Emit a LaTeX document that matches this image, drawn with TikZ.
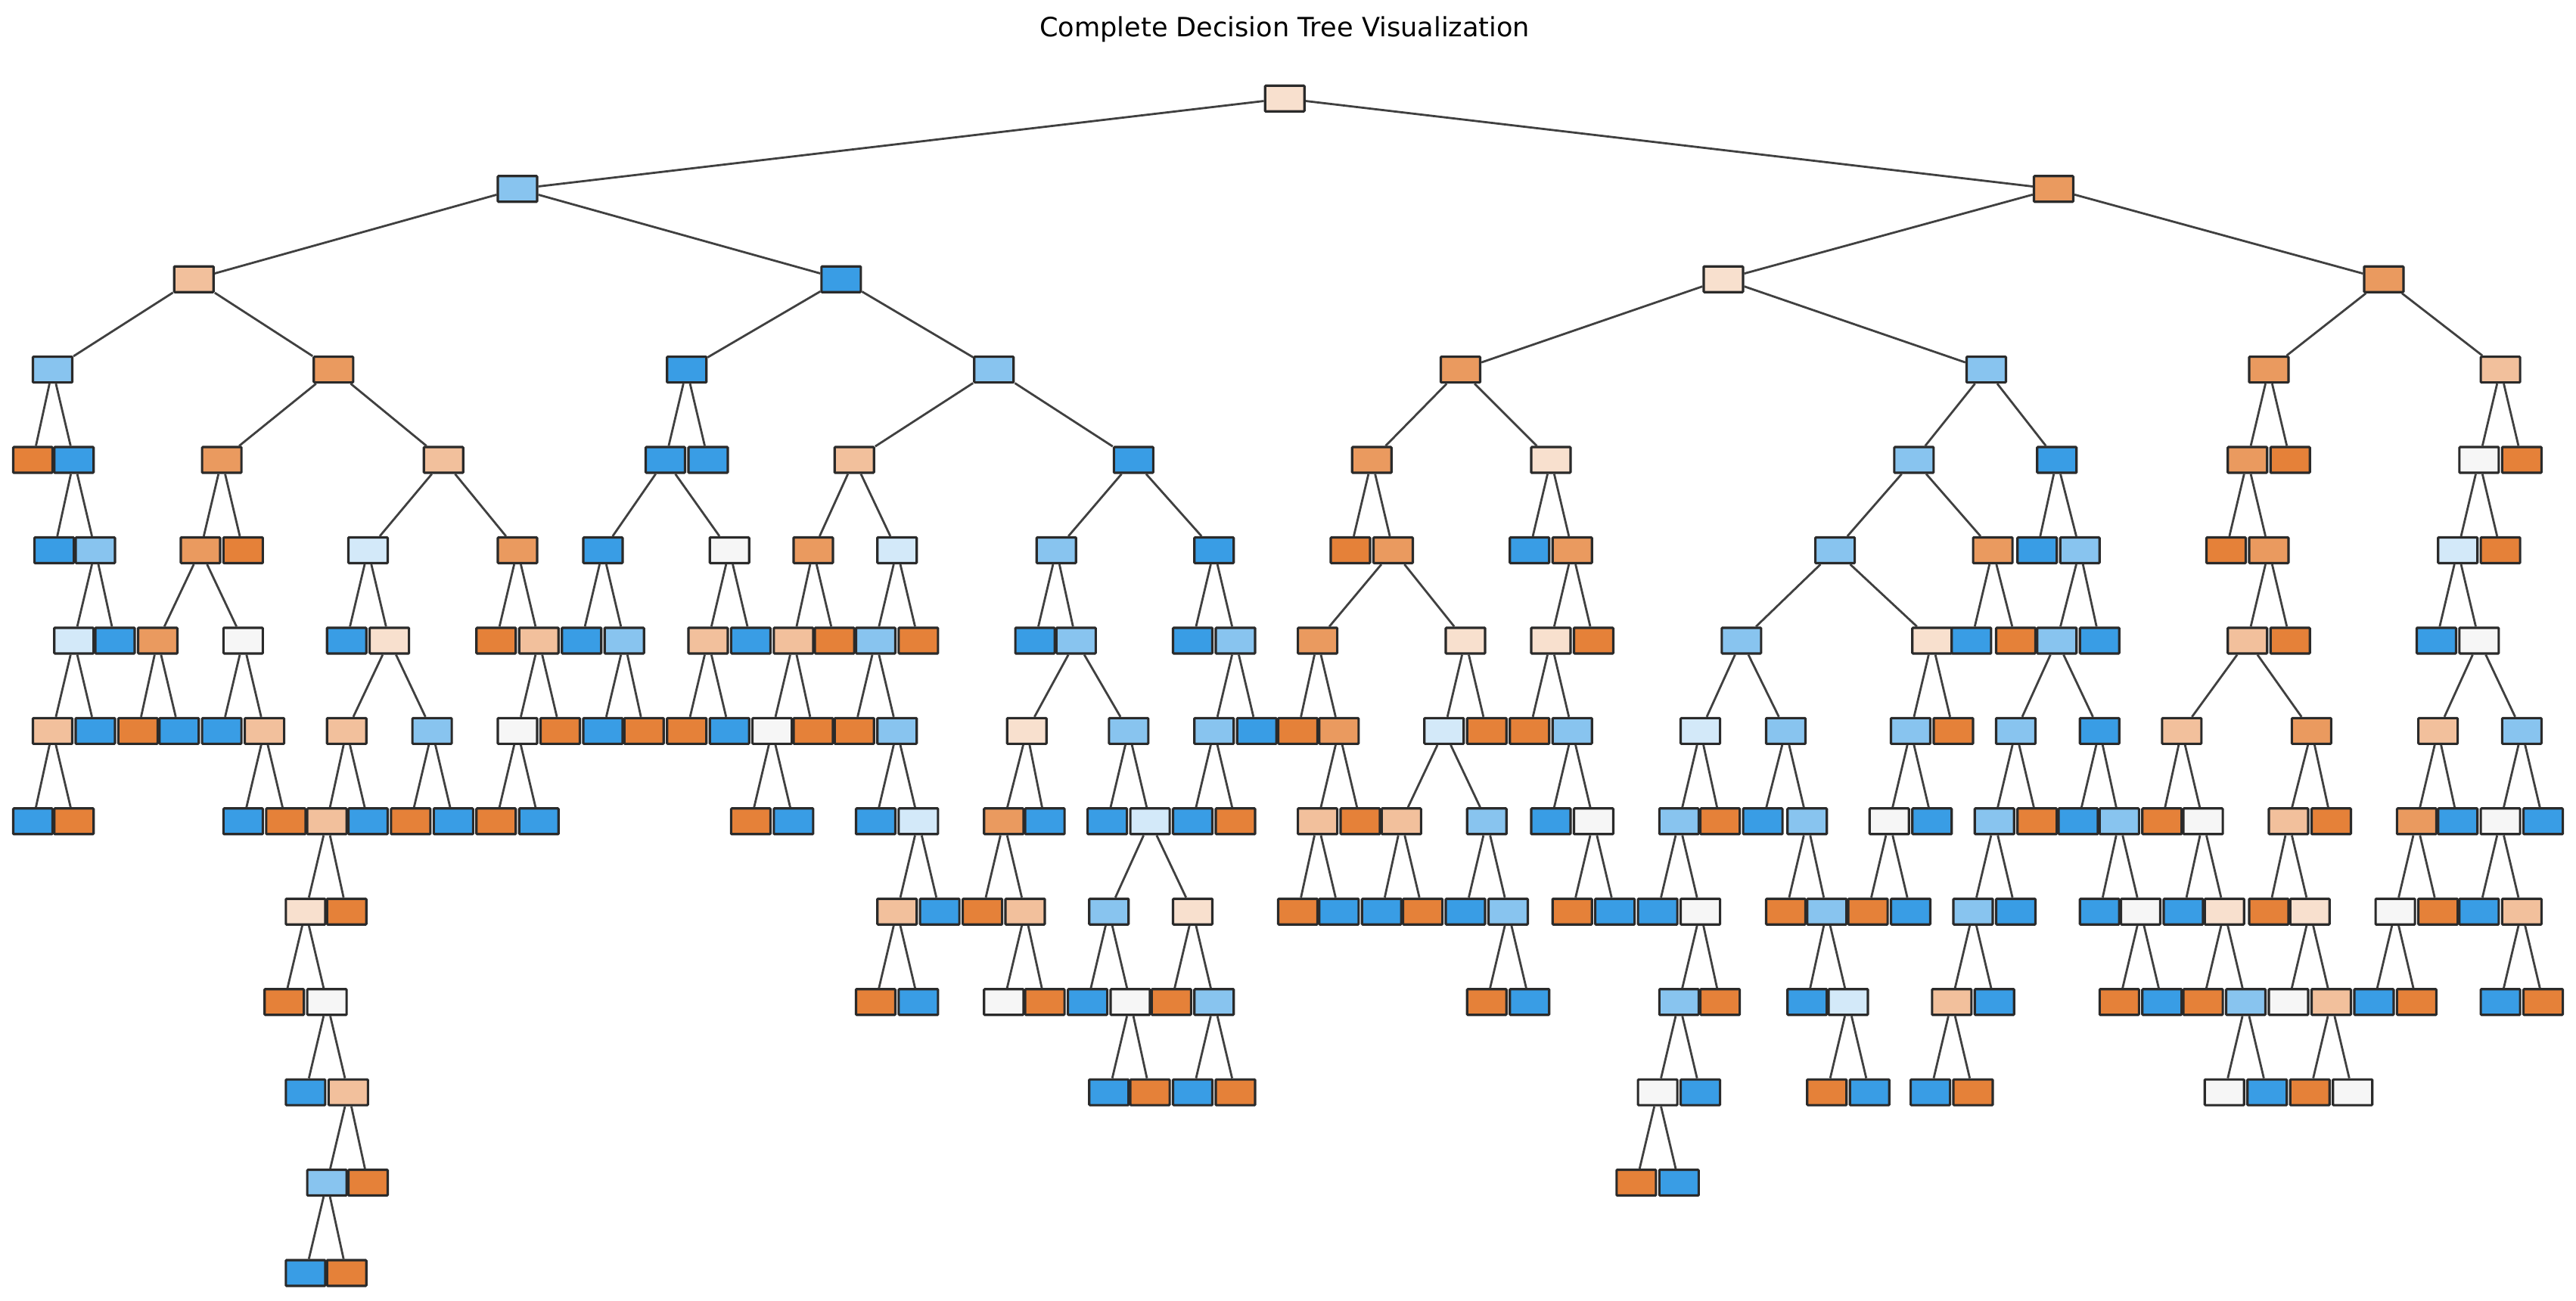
\documentclass[tikz,border=0pt]{standalone}
\usepackage{fontspec}
\setmainfont{DejaVu Sans}
\definecolor{O}{HTML}{E58139}
\definecolor{Om}{HTML}{EA9A5F}
\definecolor{o}{HTML}{F2C09C}
\definecolor{oo}{HTML}{F8E0CE}
\definecolor{W}{HTML}{F6F6F6}
\definecolor{bb}{HTML}{D3E9F9}
\definecolor{b}{HTML}{88C4EF}
\definecolor{B}{HTML}{399DE5}
\definecolor{bord}{HTML}{2A2A2A}
\tikzset{
  box/.style={draw=bord,line width=0.9pt,rounded corners=0.3pt,minimum width=0.52cm,minimum height=0.34cm,inner sep=0pt},
  edge/.style={draw=black!75,line width=0.8pt}
}
\newcommand\nd[5]{\node[box,fill=#5] (#1) at (#3,{60+55*#4}) {}; \draw[edge] (#2) -- (#1);}
\begin{document}
\begin{tikzpicture}[x=0.021716cm,y=-0.021716cm]
\useasboundingbox (0,0) rectangle (1568,792);
\node (title) at (782,18) {\fontsize{10}{12}\selectfont Complete Decision Tree Visualization};
\node[box,fill=oo] (r) at (782,60) {};
\nd{a}{r}{315}{1}{b}
\nd{bq}{r}{1250}{1}{Om}
\nd{a1}{a}{118}{2}{o}
\nd{a2}{a}{512}{2}{B}
\nd{a11}{a1}{32}{3}{b}
\nd{a12}{a1}{203}{3}{Om}
\nd{l1}{a11}{20}{4}{O}
\nd{a112}{a11}{45}{4}{B}
\nd{l2}{a112}{33}{5}{B}
\nd{a1122}{a112}{58}{5}{b}
\nd{a11221}{a1122}{45}{6}{bb}
\nd{l3}{a1122}{70}{6}{B}
\nd{a112211}{a11221}{32}{7}{o}
\nd{l4}{a11221}{58}{7}{B}
\nd{l5}{a112211}{20}{8}{B}
\nd{l6}{a112211}{45}{8}{O}
\nd{a121}{a12}{135}{4}{Om}
\nd{a122}{a12}{270}{4}{o}
\nd{a1211}{a121}{122}{5}{Om}
\nd{l7}{a121}{148}{5}{O}
\nd{a12111}{a1211}{96}{6}{Om}
\nd{a12112}{a1211}{148}{6}{W}
\nd{l8}{a12111}{84}{7}{O}
\nd{l9}{a12111}{109}{7}{B}
\nd{l10}{a12112}{135}{7}{B}
\nd{a121122}{a12112}{161}{7}{o}
\nd{l11}{a121122}{148}{8}{B}
\nd{l12}{a121122}{174}{8}{O}
\nd{a1221}{a122}{224}{5}{bb}
\nd{a1222}{a122}{315}{5}{Om}
\nd{l13}{a1221}{211}{6}{B}
\nd{a12212}{a1221}{237}{6}{oo}
\nd{a122121}{a12212}{211}{7}{o}
\nd{a122122}{a12212}{263}{7}{b}
\nd{a1221211}{a122121}{199}{8}{o}
\nd{l14}{a122121}{224}{8}{B}
\nd{c1}{a1221211}{186}{9}{oo}
\nd{l15}{a1221211}{211}{9}{O}
\nd{l16}{c1}{173}{10}{O}
\nd{c2}{c1}{199}{10}{W}
\nd{l17}{c2}{186}{11}{B}
\nd{c3}{c2}{212}{11}{o}
\nd{c4}{c3}{199}{12}{b}
\nd{l18}{c3}{224}{12}{O}
\nd{l19}{c4}{186}{13}{B}
\nd{l20}{c4}{211}{13}{O}
\nd{l21}{a122122}{250}{8}{O}
\nd{l22}{a122122}{276}{8}{B}
\nd{l23}{a1222}{302}{6}{O}
\nd{a12222}{a1222}{328}{6}{o}
\nd{a122221}{a12222}{315}{7}{W}
\nd{l24}{a12222}{341}{7}{O}
\nd{l25}{a122221}{302}{8}{O}
\nd{l26}{a122221}{328}{8}{B}
\nd{a21}{a2}{418}{3}{B}
\nd{a22}{a2}{605}{3}{b}
\nd{a211}{a21}{405}{4}{B}
\nd{l27}{a21}{431}{4}{B}
\nd{a2111}{a211}{367}{5}{B}
\nd{a2112}{a211}{444}{5}{W}
\nd{l28}{a2111}{354}{6}{B}
\nd{a21112}{a2111}{380}{6}{b}
\nd{l29}{a21112}{367}{7}{B}
\nd{l30}{a21112}{392}{7}{O}
\nd{a21121}{a2112}{431}{6}{o}
\nd{l31}{a2112}{457}{6}{B}
\nd{l32}{a21121}{418}{7}{O}
\nd{l33}{a21121}{444}{7}{B}
\nd{a221}{a22}{520}{4}{o}
\nd{a222}{a22}{690}{4}{B}
\nd{a2211}{a221}{495}{5}{Om}
\nd{a2212}{a221}{546}{5}{bb}
\nd{a22111}{a2211}{483}{6}{o}
\nd{l34}{a2211}{508}{6}{O}
\nd{a221111}{a22111}{470}{7}{W}
\nd{l35}{a22111}{495}{7}{O}
\nd{l36}{a221111}{457}{8}{O}
\nd{l37}{a221111}{483}{8}{B}
\nd{a22121}{a2212}{533}{6}{b}
\nd{l38}{a2212}{559}{6}{O}
\nd{l39}{a22121}{520}{7}{O}
\nd{a221212}{a22121}{546}{7}{b}
\nd{l40}{a221212}{533}{8}{B}
\nd{d1}{a221212}{559}{8}{bb}
\nd{d2}{d1}{546}{9}{o}
\nd{l41}{d1}{572}{9}{B}
\nd{l42}{d2}{533}{10}{O}
\nd{l43}{d2}{559}{10}{B}
\nd{a2221}{a222}{643}{5}{b}
\nd{a2222}{a222}{739}{5}{B}
\nd{l44}{a2221}{630}{6}{B}
\nd{a22212}{a2221}{655}{6}{b}
\nd{e1}{a22212}{625}{7}{oo}
\nd{e2}{a22212}{687}{7}{b}
\nd{e11}{e1}{611}{8}{Om}
\nd{l45}{e1}{636}{8}{B}
\nd{l46}{e11}{598}{9}{O}
\nd{e112}{e11}{624}{9}{o}
\nd{l47}{e112}{611}{10}{W}
\nd{l48}{e112}{636}{10}{O}
\nd{l49}{e2}{674}{8}{B}
\nd{e22}{e2}{700}{8}{bb}
\nd{e221}{e22}{675}{9}{b}
\nd{e222}{e22}{726}{9}{oo}
\nd{l50}{e221}{662}{10}{B}
\nd{e2212}{e221}{688}{10}{W}
\nd{l51}{e2212}{675}{11}{B}
\nd{l52}{e2212}{700}{11}{O}
\nd{l53}{e222}{713}{10}{O}
\nd{e2222}{e222}{739}{10}{b}
\nd{l54}{e2222}{726}{11}{B}
\nd{l55}{e2222}{752}{11}{O}
\nd{l56}{a2222}{726}{6}{B}
\nd{f1}{a2222}{752}{6}{b}
\nd{f11}{f1}{739}{7}{b}
\nd{l57}{f1}{765}{7}{B}
\nd{l58}{f11}{726}{8}{B}
\nd{l59}{f11}{752}{8}{O}
\nd{b1}{bq}{1049}{2}{oo}
\nd{b2}{bq}{1451}{2}{Om}
\nd{b11}{b1}{889}{3}{Om}
\nd{b12}{b1}{1209}{3}{b}
\nd{b111}{b11}{835}{4}{Om}
\nd{b112}{b11}{944}{4}{oo}
\nd{l60}{b111}{822}{5}{O}
\nd{b1112}{b111}{848}{5}{Om}
\nd{g1}{b1112}{802}{6}{Om}
\nd{g2}{b1112}{892}{6}{oo}
\nd{l61}{g1}{790}{7}{O}
\nd{g12}{g1}{815}{7}{Om}
\nd{g121}{g12}{802}{8}{o}
\nd{l62}{g12}{828}{8}{O}
\nd{l63}{g121}{790}{9}{O}
\nd{l64}{g121}{815}{9}{B}
\nd{g21}{g2}{879}{7}{bb}
\nd{l65}{g2}{905}{7}{O}
\nd{g211}{g21}{853}{8}{o}
\nd{g212}{g21}{905}{8}{b}
\nd{l66}{g211}{841}{9}{B}
\nd{l67}{g211}{866}{9}{O}
\nd{l68}{g212}{892}{9}{B}
\nd{g2122}{g212}{918}{9}{b}
\nd{l69}{g2122}{905}{10}{O}
\nd{l70}{g2122}{931}{10}{B}
\nd{l71}{b112}{931}{5}{B}
\nd{b1122}{b112}{957}{5}{Om}
\nd{h1}{b1122}{944}{6}{oo}
\nd{l72}{b1122}{970}{6}{O}
\nd{l73}{h1}{931}{7}{O}
\nd{h12}{h1}{957}{7}{b}
\nd{l74}{h12}{944}{8}{B}
\nd{h122}{h12}{970}{8}{W}
\nd{l75}{h122}{957}{9}{O}
\nd{l76}{h122}{983}{9}{B}
\nd{b121}{b12}{1165}{4}{b}
\nd{b122}{b12}{1252}{4}{B}
\nd{p}{b121}{1117}{5}{b}
\nd{b1212}{b121}{1213}{5}{Om}
\nd{q}{p}{1060}{6}{b}
\nd{rr}{p}{1176}{6}{oo}
\nd{l77}{b1212}{1200}{6}{B}
\nd{l78}{b1212}{1227}{6}{O}
\nd{l79}{b122}{1240}{5}{B}
\nd{b1222}{b122}{1266}{5}{b}
\nd{s}{b1222}{1252}{6}{b}
\nd{l80}{b1222}{1278}{6}{B}
\nd{q1}{q}{1035}{7}{bb}
\nd{q2}{q}{1087}{7}{b}
\nd{q11}{q1}{1022}{8}{b}
\nd{l81}{q1}{1047}{8}{O}
\nd{l82}{q11}{1009}{9}{B}
\nd{q112}{q11}{1035}{9}{W}
\nd{q1121}{q112}{1022}{10}{b}
\nd{l83}{q112}{1047}{10}{O}
\nd{q11211}{q1121}{1009}{11}{W}
\nd{l84}{q1121}{1035}{11}{B}
\nd{l85}{q11211}{996}{12}{O}
\nd{l86}{q11211}{1022}{12}{B}
\nd{l87}{q2}{1073}{8}{B}
\nd{q22}{q2}{1100}{8}{b}
\nd{l88}{q22}{1087}{9}{O}
\nd{q222}{q22}{1112}{9}{b}
\nd{l89}{q222}{1100}{10}{B}
\nd{q2222}{q222}{1125}{10}{bb}
\nd{l90}{q2222}{1112}{11}{O}
\nd{l91}{q2222}{1138}{11}{B}
\nd{r1}{rr}{1163}{7}{b}
\nd{l92}{rr}{1189}{7}{O}
\nd{r11}{r1}{1150}{8}{W}
\nd{l93}{r1}{1176}{8}{B}
\nd{l94}{r11}{1137}{9}{O}
\nd{l95}{r11}{1163}{9}{B}
\nd{s1}{s}{1227}{7}{b}
\nd{s2}{s}{1278}{7}{B}
\nd{s11}{s1}{1214}{8}{b}
\nd{l96}{s1}{1240}{8}{O}
\nd{s111}{s11}{1201}{9}{b}
\nd{l97}{s11}{1227}{9}{B}
\nd{s1111}{s111}{1188}{10}{o}
\nd{l98}{s111}{1214}{10}{B}
\nd{l99}{s1111}{1175}{11}{B}
\nd{l100}{s1111}{1201}{11}{O}
\nd{l101}{s2}{1265}{8}{B}
\nd{s22}{s2}{1290}{8}{b}
\nd{l102}{s22}{1278}{9}{B}
\nd{s222}{s22}{1303}{9}{W}
\nd{l103}{s222}{1290}{10}{O}
\nd{l104}{s222}{1316}{10}{B}
\nd{b21}{b2}{1381}{3}{Om}
\nd{b22}{b2}{1522}{3}{o}
\nd{b211}{b21}{1368}{4}{Om}
\nd{l105}{b21}{1394}{4}{O}
\nd{l106}{b211}{1355}{5}{O}
\nd{b2112}{b211}{1381}{5}{Om}
\nd{t1}{b2112}{1368}{6}{o}
\nd{l107}{b2112}{1394}{6}{O}
\nd{t11}{t1}{1328}{7}{o}
\nd{t12}{t1}{1407}{7}{Om}
\nd{l108}{t11}{1316}{8}{O}
\nd{t112}{t11}{1341}{8}{W}
\nd{l109}{t112}{1329}{9}{B}
\nd{t1122}{t112}{1354}{9}{oo}
\nd{l110}{t1122}{1341}{10}{O}
\nd{t11222}{t1122}{1367}{10}{b}
\nd{l111}{t11222}{1354}{11}{W}
\nd{l112}{t11222}{1380}{11}{B}
\nd{t121}{t12}{1393}{8}{o}
\nd{l113}{t12}{1419}{8}{O}
\nd{l114}{t121}{1381}{9}{O}
\nd{t1212}{t121}{1406}{9}{oo}
\nd{l115}{t1212}{1393}{10}{W}
\nd{t12122}{t1212}{1419}{10}{o}
\nd{l116}{t12122}{1406}{11}{O}
\nd{l117}{t12122}{1432}{11}{W}
\nd{u1}{b22}{1509}{4}{W}
\nd{l118}{b22}{1535}{4}{O}
\nd{u11}{u1}{1496}{5}{bb}
\nd{l119}{u1}{1522}{5}{O}
\nd{l120}{u11}{1483}{6}{B}
\nd{u112}{u11}{1509}{6}{W}
\nd{u1121}{u112}{1484}{7}{o}
\nd{u1122}{u112}{1535}{7}{b}
\nd{u11211}{u1121}{1471}{8}{Om}
\nd{l121}{u1121}{1496}{8}{B}
\nd{u112111}{u11211}{1458}{9}{W}
\nd{l122}{u11211}{1484}{9}{O}
\nd{l123}{u112111}{1445}{10}{B}
\nd{l124}{u112111}{1471}{10}{O}
\nd{u11221}{u1122}{1522}{8}{W}
\nd{l125}{u1122}{1548}{8}{B}
\nd{l126}{u11221}{1509}{9}{B}
\nd{u112212}{u11221}{1535}{9}{o}
\nd{l127}{u112212}{1522}{10}{B}
\nd{l128}{u112212}{1548}{10}{O}
\end{tikzpicture}
\end{document}
